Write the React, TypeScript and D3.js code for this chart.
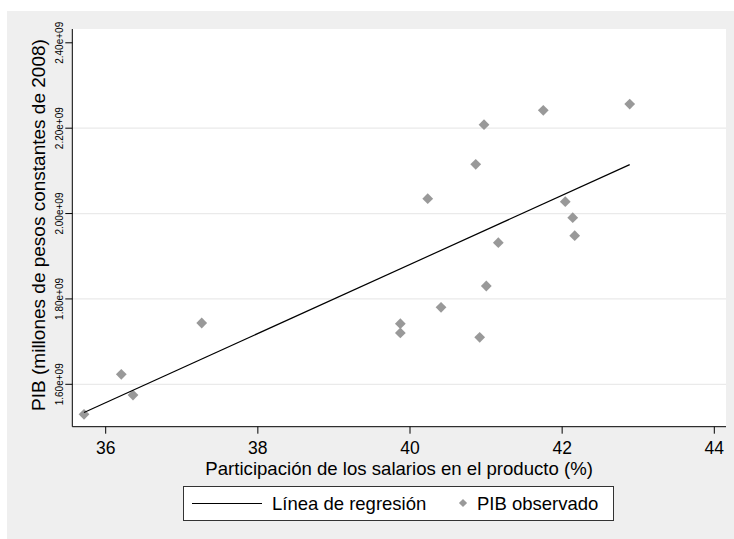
import React from "react";
import * as d3 from "d3";

// Wage share of output (%) and observed GDP (millions of constant 2008 pesos)
const wageShare: number[] = [
  35.715, 36.205, 36.359, 37.262, 39.873, 39.873, 40.233, 40.408, 40.864,
  40.973, 40.916, 41.003, 41.161, 41.752, 42.041, 42.139, 42.165, 42.888,
];
const gdpObserved: number[] = [
  1.5297e9, 1.6234e9, 1.5749e9, 1.7436e9, 1.742e9, 1.7202e9, 2.0348e9,
  1.7804e9, 2.1154e9, 2.2082e9, 1.7101e9, 1.8303e9, 1.9317e9, 2.2419e9,
  2.0278e9, 1.9903e9, 1.9481e9, 2.2566e9,
];

// Fitted regression line: value at the smallest share, and slope per point
const fitAtMin = 1.534e9;
const fitSlope = 0.08093e9;

const xTicks: number[] = [36, 38, 40, 42, 44];
const yTicks: number[] = [1.6e9, 1.8e9, 2.0e9, 2.2e9, 2.4e9];

const xTitle = "Participación de los salarios en el producto (%)";
const yTitle = "PIB (millones de pesos constantes de 2008)";
const legendLine = "Línea de regresión";
const legendPoints = "PIB observado";

const W = 734;
const H = 539;
const plot = { left: 72.3, right: 726, top: 29, bottom: 426.7 };

const sciLabel = (v: number) => {
  const s = d3.format(".2e")(v);
  return s.replace(/e([+-])(\d)$/, "e$10$2");
};

export default function App() {
  const x = d3.scaleLinear().domain([36, 44]).range([105.7, 714.3]);
  const y = d3.scaleLinear().domain([1.6e9, 2.4e9]).range([384.3, 42.8]);

  const xMin = d3.min(wageShare) as number;
  const xMax = d3.max(wageShare) as number;
  const fit = (v: number) => fitAtMin + fitSlope * (v - xMin);
  const linePath = d3
    .line<number>()
    .x((d) => x(d))
    .y((d) => y(fit(d)))([xMin, xMax]);

  const diamond = d3.symbol(d3.symbolSquare, 58)() as string;
  const diamondSmall = d3.symbol(d3.symbolSquare, 34)() as string;

  const font = "'Liberation Sans', Arial, sans-serif";
  const gridTicks = yTicks.filter((t) => y(t) > plot.top + 20);

  return (
    <div style={{ position: "absolute", left: 0, top: 0 }}>
      <svg width={W} height={H} style={{ display: "block" }}>
        <rect x={0} y={0} width={W} height={H} fill="#ffffff" />
        <rect x={7} y={11} width={W - 7} height={H - 11} fill="#efefef" />
        <rect
          x={plot.left}
          y={plot.top}
          width={plot.right - plot.left}
          height={plot.bottom - plot.top}
          fill="#ffffff"
        />
        {gridTicks.map((t) => (
          <line
            key={"g" + t}
            x1={plot.left}
            x2={plot.right}
            y1={y(t)}
            y2={y(t)}
            stroke="#eaeaea"
            strokeWidth={1.2}
          />
        ))}
        {/* axes */}
        <line x1={plot.left} x2={plot.left} y1={plot.top} y2={plot.bottom} stroke="#000" strokeWidth={1} />
        <line x1={plot.left} x2={plot.right} y1={plot.bottom} y2={plot.bottom} stroke="#000" strokeWidth={1} />
        {yTicks.map((t) => (
          <g key={"y" + t}>
            <line x1={plot.left - 7} x2={plot.left} y1={y(t)} y2={y(t)} stroke="#000" />
            <text
              transform={`translate(${63},${y(t)}) rotate(-90)`}
              textAnchor="middle"
              fontFamily={font}
              fontSize={10}
              fill="#000"
            >
              {sciLabel(t)}
            </text>
          </g>
        ))}
        {xTicks.map((t) => (
          <g key={"x" + t}>
            <line x1={x(t)} x2={x(t)} y1={plot.bottom} y2={plot.bottom + 7} stroke="#000" />
            <text x={x(t)} y={454} textAnchor="middle" fontFamily={font} fontSize={17.5} fill="#000">
              {t}
            </text>
          </g>
        ))}
        <text
          x={(plot.left + plot.right) / 2}
          y={475}
          textAnchor="middle"
          fontFamily={font}
          fontSize={18.6}
          fill="#000"
        >
          {xTitle}
        </text>
        <text
          transform={`translate(${45},${225}) rotate(-90)`}
          textAnchor="middle"
          fontFamily={font}
          fontSize={19}
          fill="#000"
        >
          {yTitle}
        </text>

        {/* observations */}
        {wageShare.map((v, i) => (
          <path
            key={"p" + i}
            d={diamond}
            transform={`translate(${x(v)},${y(gdpObserved[i])}) rotate(45)`}
            fill="#999999"
          />
        ))}
        {/* regression line */}
        <path d={linePath ?? ""} fill="none" stroke="#000" strokeWidth={1.2} />

        {/* legend */}
        <rect x={183.5} y={486.5} width={430} height={34} fill="#ffffff" stroke="#333" strokeWidth={1} />
        <line x1={192} x2={262} y1={503.5} y2={503.5} stroke="#000" strokeWidth={1.2} />
        <text x={272} y={510} fontFamily={font} fontSize={18.5} fill="#000">
          {legendLine}
        </text>
        <path d={diamondSmall} transform={`translate(${463},${503}) rotate(45)`} fill="#999999" />
        <text x={477} y={510} fontFamily={font} fontSize={18.5} fill="#000">
          {legendPoints}
        </text>
      </svg>
    </div>
  );
}
